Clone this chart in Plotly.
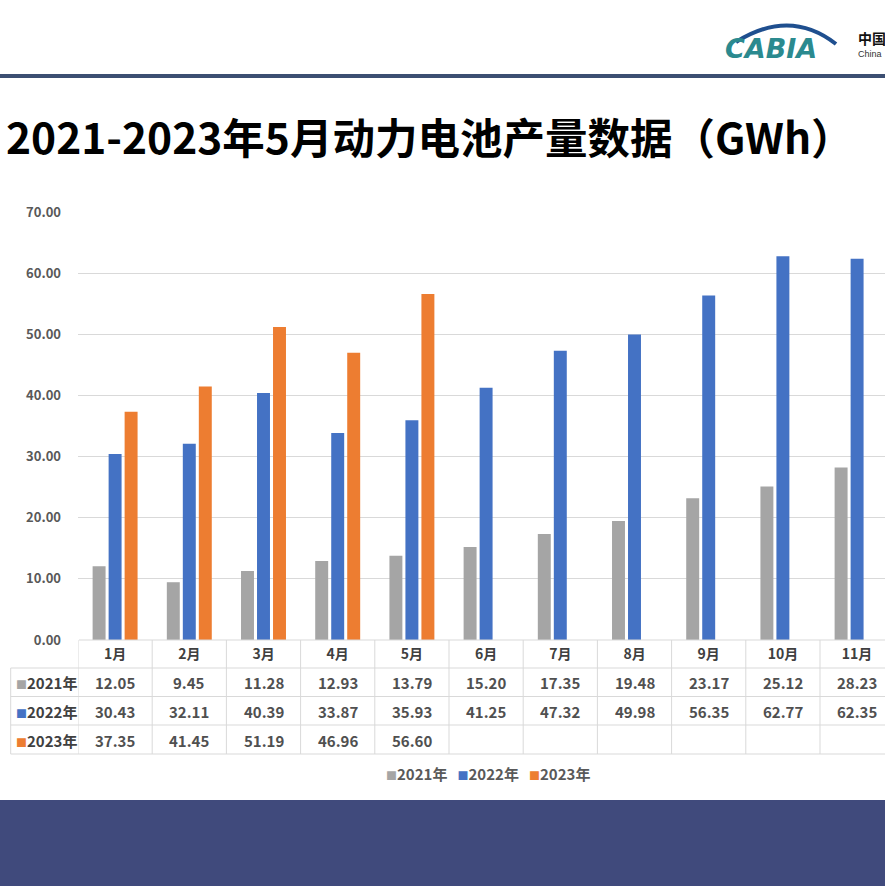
import plotly.graph_objects as go

# data
months = ["1月", "2月", "3月", "4月", "5月", "6月", "7月", "8月", "9月", "10月", "11月"]
series_names = ["2021年", "2022年", "2023年"]
y2021 = [12.05, 9.45, 11.28, 12.93, 13.79, 15.20, 17.35, 19.48, 23.17, 25.12, 28.23]
y2022 = [30.43, 32.11, 40.39, 33.87, 35.93, 41.25, 47.32, 49.98, 56.35, 62.77, 62.35]
y2023 = [37.35, 41.45, 51.19, 46.96, 56.60]
colors = ["#a5a5a5", "#4472c4", "#ed7d31"]

W, H = 885, 886
L, T = 78, 212
B = H - 640
PLOT_W = W - L
PLOT_H = H - T - B
FONT = "Noto Sans CJK SC"


# pixel -> paper helpers for the slide decoration
def px(p):
    return (p - L) / PLOT_W


def py(p):
    return (H - B - p) / PLOT_H


fig = go.Figure()
for name, vals, col in zip(series_names, [y2021, y2022, y2023], colors):
    fig.add_trace(go.Bar(x=months[:len(vals)], y=vals, name=name,
                         marker=dict(color=col, line=dict(width=0))))

col_w = 74.2
shapes = []
annotations = []

# header bar + footer band
shapes.append(dict(type="rect", xref="paper", yref="paper", x0=px(0), x1=1,
                   y0=py(78), y1=py(74), fillcolor="#3c4f72", line=dict(width=0), layer="below"))
shapes.append(dict(type="rect", xref="paper", yref="paper", x0=px(0), x1=1,
                   y0=py(886), y1=py(800), fillcolor="#404a7c", line=dict(width=0), layer="below"))

# logo swoosh + text
shapes.append(dict(type="path", xref="paper", yref="paper",
                   path="M %f,%f Q %f,%f %f,%f" % (px(736), py(42), px(790), py(8), px(836), py(44)),
                   line=dict(color="#1f4f8f", width=4)))
annotations.append(dict(text="<b><i>CABIA</i></b>", xref="paper", yref="paper",
                        x=px(723), y=py(48), xanchor="left", yanchor="middle", showarrow=False,
                        font=dict(family="DejaVu Sans", size=27, color="#2b8a8f")))
annotations.append(dict(text="<b>中国</b>", xref="paper", yref="paper",
                        x=px(856), y=py(38), xanchor="left", yanchor="middle", showarrow=False,
                        font=dict(family=FONT, size=14, color="#111111")))
annotations.append(dict(text="China", xref="paper", yref="paper",
                        x=px(856), y=py(54), xanchor="left", yanchor="middle", showarrow=False,
                        font=dict(family="Liberation Sans", size=9, color="#333333")))

# title
annotations.append(dict(text="<b>2021-2023年5月动力电池产量数据（GWh）</b>", xref="paper", yref="paper",
                        x=px(4), y=py(135), xanchor="left", yanchor="middle", showarrow=False,
                        font=dict(family=FONT, size=42.5, color="#000000")))

# data table under the plot
grid = "#d9d9d9"
row_lines = [640, 668, 696.5, 725, 754]
for i, yy in enumerate(row_lines):
    shapes.append(dict(type="line", xref="paper", yref="paper",
                       x0=px(79) if i == 0 else px(10.7), x1=1, y0=py(yy), y1=py(yy),
                       line=dict(color=grid, width=1)))
shapes.append(dict(type="line", xref="paper", yref="paper", x0=px(10.7), x1=px(10.7),
                   y0=py(668), y1=py(754), line=dict(color=grid, width=1)))
for i in range(len(months) + 1):
    shapes.append(dict(type="line", xref="x", yref="paper", x0=i - 0.5, x1=i - 0.5,
                       y0=py(640), y1=py(754), line=dict(color=grid, width=1)))

row_centers = [682, 711, 740]
for name, vals, col, yc in zip(series_names, [y2021, y2022, y2023], colors, row_centers):
    annotations.append(dict(
        text="<span style='color:%s;font-size:11px'>■</span><b>%s</b>" % (col, name),
        xref="paper", yref="paper", x=px(14), y=py(yc), xanchor="left", yanchor="middle",
        showarrow=False, font=dict(family=FONT, size=15, color="#404040")))
    for i, v in enumerate(vals):
        annotations.append(dict(text="<b>%.2f</b>" % v, xref="x", yref="paper", x=i, y=py(yc),
                                xanchor="center", yanchor="middle", showarrow=False,
                                font=dict(family=FONT, size=15, color="#505050")))

# legend row under the table
legend_text = "   ".join("<span style='color:%s;font-size:11px'>■</span><b>%s</b>" % (c, n)
                         for n, c in zip(series_names, colors))
annotations.append(dict(text=legend_text, xref="paper", yref="paper", x=px(488), y=py(773),
                        xanchor="center", yanchor="middle", showarrow=False,
                        font=dict(family=FONT, size=15, color="#595959")))

fig.update_layout(
    width=W, height=H,
    margin=dict(l=L, r=0, t=T, b=B, pad=0),
    paper_bgcolor="white", plot_bgcolor="white",
    font=dict(family=FONT, color="#595959"),
    barmode="group", bargap=0.353, bargroupgap=0.19,
    showlegend=False,
    xaxis=dict(categoryorder="array", categoryarray=months,
               range=[-0.5, -0.5 + PLOT_W / col_w], showgrid=False, zeroline=False,
               showline=False, ticks="", ticklabelstandoff=4,
               tickfont=dict(family=FONT, size=14, color="#404040", weight="bold"),
               automargin=False),
    yaxis=dict(range=[0, 70], dtick=10, tickformat=".2f", showgrid=True, gridcolor=grid,
               gridwidth=1, zeroline=False, showline=False, ticks="", ticklabelstandoff=16,
               tickfont=dict(family=FONT, size=13, color="#595959", weight="bold"),
               automargin=False),
    shapes=shapes,
    annotations=annotations,
)

# drop the browser's default body margin so the slide fills the window
fig.write_html("out.html", config={"displayModeBar": False},
               post_script="document.body.style.margin='0';document.body.style.overflow='hidden';")
